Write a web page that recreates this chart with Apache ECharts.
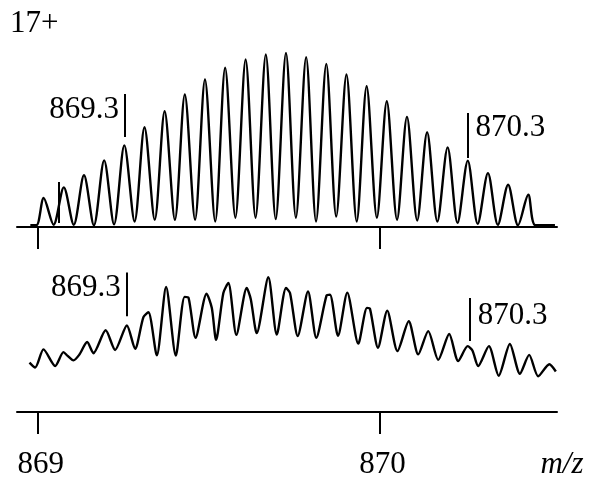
<!DOCTYPE html>
<html><head><meta charset="utf-8">
<script src="https://cdn.jsdelivr.net/npm/echarts@6/dist/echarts.min.js"></script>
<style>html,body{margin:0;padding:0;background:#fff}#c{width:590px;height:480px}</style>
</head><body><div id="c"></div>
<script>
// ---- data ----
const chargeLabel = '17+';
const axisName = 'm/z';
const tickValues = [869, 870];

// theoretical isotope profile (top panel), relative intensity %
const theoMz = [868.977, 868.995, 869.016, 869.045, 869.075, 869.104, 869.134, 869.163, 869.193, 869.222, 869.252, 869.282, 869.311, 869.341, 869.370, 869.400, 869.429, 869.459, 869.488, 869.518, 869.547, 869.577, 869.607, 869.636, 869.666, 869.695, 869.725, 869.754, 869.784, 869.813, 869.843, 869.872, 869.902, 869.932, 869.961, 869.991, 870.020, 870.050, 870.079, 870.109, 870.138, 870.168, 870.198, 870.227, 870.257, 870.286, 870.316, 870.345, 870.375, 870.404, 870.434, 870.455, 870.512];
const theoInt = [0, 0, 15.8, 0.3, 22.0, 0.3, 29.0, 0, 37.7, 0.5, 46.4, 2.2, 56.9, 3.2, 66.2, 3.2, 75.9, 3.2, 84.6, 2.2, 91.4, 4.4, 96.2, 4.4, 99.1, 3.6, 100, 4.4, 97.6, 2.2, 93.7, 5.1, 87.5, 2.2, 80.7, 4.4, 72.0, 3.2, 62.9, 2.8, 54.0, 2.2, 45.2, 1.4, 37.5, 0.8, 30.3, 0.3, 23.5, 0, 17.7, 0, 0];

// experimental spectrum (bottom panel)
const expMz = [868.9746, 868.9912, 869.0155, 869.0497, 869.0740, 869.0863, 869.1032, 869.1199, 869.1433, 869.1617, 869.1974, 869.2251, 869.2594, 869.2836, 869.3079, 869.3225, 869.3471, 869.3743, 869.4026, 869.4284, 869.4401, 869.4605, 869.4927, 869.5079, 869.5205, 869.5418, 869.5564, 869.5798, 869.6102, 869.6219, 869.6395, 869.6734, 869.6980, 869.7251, 869.7368, 869.7594, 869.7895, 869.8137, 869.8436, 869.8538, 869.8772, 869.9044, 869.9366, 869.9620, 869.9708, 869.9942, 870.0213, 870.0512, 870.0842, 870.1120, 870.1412, 870.1705, 870.2026, 870.2289, 870.2567, 870.2705, 870.2874, 870.3187, 870.3474, 870.3801, 870.4094, 870.4366, 870.4629, 870.4956, 870.5146];
const expInt = [28.9, 26.0, 36.6, 26.9, 35.0, 32.8, 30.2, 33.4, 40.9, 34.4, 47.8, 36.3, 50.6, 37.0, 55.5, 58.3, 33.1, 73.1, 33.0, 67.3, 66.7, 43.4, 69.2, 60.9, 42.2, 69.6, 75.4, 45.1, 72.5, 66.1, 46.1, 78.8, 45.3, 72.5, 69.6, 44.4, 70.5, 43.4, 68.0, 68.6, 44.5, 69.8, 40.0, 60.9, 60.3, 37.6, 59.3, 35.6, 53.1, 33.7, 47.3, 30.5, 45.6, 29.8, 38.5, 36.0, 26.9, 38.5, 21.2, 39.8, 22.4, 33.4, 20.9, 27.9, 23.7];

// annotation markers
const markerText = ['869.3', '870.3'];
const markerSide = ['left', 'right'];
const topMarkerMz = [869.254, 870.256];
const topMarkerLow = [51.2, 39.1];
const topMarkerHigh = [76.2, 65.2];
const topLabelInt = [66.9, 56.3];
const botMarkerMz = [869.259, 870.263];
const botMarkerLow = [56.0, 41.5];
const botMarkerHigh = [81.6, 66.7];
const botLabelInt = [72.8, 56.4];
const extraMarkerMz = [869.059];
const extraMarkerLow = [1.3];
const extraMarkerHigh = [25.1];

// ---- chart ----
const FONT = 'Liberation Serif';
const FS = 31;
const zip = (a, b) => a.map((v, i) => [v, b[i]]);
const segs = (mz, lo, hi) => mz.map((m, i) => [{coord: [m, lo[i]]}, {coord: [m, hi[i]]}]);
const labelData = (mz, ints) => mz.map((m, i) => ({
  value: [m, ints[i]], name: markerText[i],
  label: {position: markerSide[i], distance: i === 0 ? 6 : 8}
}));
const markLineStyle = {
  symbol: ['none', 'none'], silent: true, animation: false,
  label: {show: false}, emphasis: {disabled: true},
  lineStyle: {color: '#000', width: 2, type: 'solid', opacity: 1}
};
const xCommon = {
  type: 'value', min: 868.938, max: 870.518,
  splitLine: {show: false},
  axisLine: {show: true, onZero: false, lineStyle: {color: '#000', width: 2}},
  axisTick: {show: true, customValues: tickValues, length: 22, lineStyle: {color: '#000', width: 2}}
};
const labelStyle = {show: true, formatter: p => p.name, fontFamily: FONT, fontSize: FS, color: '#000', opacity: 1};

const chart = echarts.init(document.getElementById('c'), null, {renderer: 'canvas'});
chart.setOption({
  animation: false,
  backgroundColor: '#fff',
  title: {text: chargeLabel, left: 10, top: 8, padding: 0,
    textStyle: {fontFamily: FONT, fontSize: FS, fontWeight: 'normal', color: '#000'}},
  grid: [
    {left: 17, right: 33, top: 53, height: 174},
    {left: 17, right: 33, top: 241, height: 172}
  ],
  xAxis: [
    Object.assign({}, xCommon, {gridIndex: 0, axisLabel: {show: false}}),
    Object.assign({}, xCommon, {gridIndex: 1,
      axisLabel: {show: true, customValues: tickValues, margin: 37, padding: [0, 0, 0, 5],
        fontFamily: FONT, fontSize: FS, color: '#000'},
      name: axisName, nameLocation: 'end', nameGap: 5,
      nameTextStyle: {fontFamily: FONT, fontSize: FS, fontStyle: 'italic', color: '#000',
        align: 'center', verticalAlign: 'top', padding: [37, 0, 0, 0]}})
  ],
  yAxis: [
    {type: 'value', gridIndex: 0, min: -1, max: 100, show: false},
    {type: 'value', gridIndex: 1, min: 0, max: 100, show: false}
  ],
  series: [
    {type: 'line', xAxisIndex: 0, yAxisIndex: 0, data: zip(theoMz, theoInt),
      showSymbol: false, smooth: 0.3, lineStyle: {color: '#000', width: 2.4}, silent: true,
      markLine: Object.assign({data: segs(topMarkerMz, topMarkerLow, topMarkerHigh)
        .concat(segs(extraMarkerMz, extraMarkerLow, extraMarkerHigh))}, markLineStyle)},
    {type: 'line', xAxisIndex: 1, yAxisIndex: 1, data: zip(expMz, expInt),
      showSymbol: false, smooth: 0.25, lineStyle: {color: '#000', width: 2.4}, silent: true,
      markLine: Object.assign({data: segs(botMarkerMz, botMarkerLow, botMarkerHigh)}, markLineStyle)},
    {type: 'scatter', xAxisIndex: 0, yAxisIndex: 0, symbolSize: 0, silent: true,
      itemStyle: {opacity: 1, color: '#000'},
      data: labelData(topMarkerMz, topLabelInt), label: labelStyle},
    {type: 'scatter', xAxisIndex: 1, yAxisIndex: 1, symbolSize: 0, silent: true,
      itemStyle: {opacity: 1, color: '#000'},
      data: labelData(botMarkerMz, botLabelInt), label: labelStyle}
  ]
});
</script></body></html>
